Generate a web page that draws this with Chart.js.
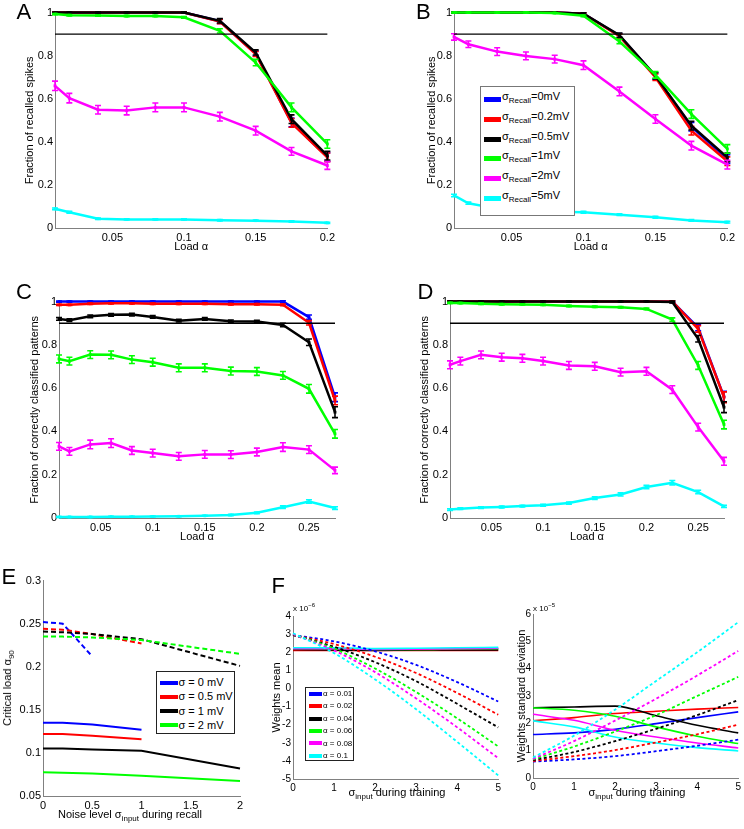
<!DOCTYPE html>
<html><head><meta charset="utf-8">
<script src="https://cdn.jsdelivr.net/npm/chart.js@4.4.1/dist/chart.umd.min.js"></script>
<style>
body{margin:0;background:#fff;}
#fig{position:relative;width:744px;height:829px;overflow:hidden;background:#fff;font-family:'Liberation Sans',Arial,sans-serif;color:#000;}
canvas{position:absolute;}
.lbl{position:absolute;font-size:22px;line-height:22px;}
.t{position:absolute;white-space:nowrap;font-size:11px;line-height:13px;}
.sub{font-size:8px;position:relative;top:3px;}
.sup{font-size:6px;position:relative;top:-4px;}
.leg{position:absolute;background:#fff;box-sizing:border-box;}
.row{position:absolute;white-space:nowrap;}
.sw{position:absolute;}
</style></head>
<body><div id="fig"></div>
<script>
// ---------------- DATA ----------------
const alphaAB = [0.01,0.02,0.04,0.06,0.08,0.1,0.125,0.15,0.175,0.2];
const alphaCD = [0.01,0.02,0.04,0.06,0.08,0.1,0.125,0.15,0.175,0.2,0.225,0.25,0.275];
const yTicksFrac = [0,0.2,0.4,0.6,0.8,1];
const yLabelsFrac = ['0','0.2','0.4','0.6','0.8','1'];
const xTicksAB = [0.05,0.1,0.15,0.2];
const xLabelsAB = ['0.05','0.1','0.15','0.2'];
const xTicksCD = [0.05,0.1,0.15,0.2,0.25];
const xLabelsCD = ['0.05','0.1','0.15','0.2','0.25'];
const threshold = 0.9;

// Panel A
const A_blue    = [1,1,1,1,1,1,0.960,0.810,0.490,0.330];
const A_red     = [1,1,1,1,1,1,0.958,0.808,0.488,0.328];
const A_black   = [1,1,1,1,1,1,0.962,0.815,0.505,0.336];
const A_green   = [0.993,0.988,0.986,0.984,0.984,0.978,0.915,0.768,0.560,0.390];
const A_magenta = [0.660,0.603,0.549,0.545,0.560,0.560,0.517,0.452,0.356,0.290];
const A_cyan    = [0.089,0.073,0.043,0.040,0.040,0.040,0.036,0.034,0.030,0.024];
const A_errHigh = [0.002,0.002,0.002,0.002,0.002,0.002,0.010,0.012,0.020,0.020];
const A_errGreen= [0.003,0.003,0.003,0.003,0.003,0.004,0.010,0.015,0.020,0.020];
const A_errMag  = [0.022,0.022,0.020,0.020,0.020,0.020,0.020,0.020,0.018,0.018];
const A_errCyan = [0.004,0.004,0.003,0.003,0.003,0.003,0.003,0.003,0.003,0.003];

// Panel B
const B_blue    = [1,1,1,1,1,0.995,0.893,0.705,0.470,0.320];
const B_red     = [1,1,1,1,1,0.995,0.890,0.700,0.452,0.310];
const B_black   = [1,1,1,1,1,0.995,0.895,0.707,0.475,0.328];
const B_green   = [1,1,1,1,0.998,0.985,0.866,0.711,0.529,0.367];
const B_magenta = [0.887,0.853,0.819,0.799,0.784,0.756,0.634,0.506,0.382,0.294];
const B_cyan    = [0.151,0.115,0.090,0.083,0.076,0.073,0.062,0.050,0.035,0.027];
const B_errHigh = [0.002,0.002,0.002,0.002,0.002,0.004,0.010,0.015,0.020,0.020];
const B_errMag  = [0.015,0.015,0.018,0.018,0.018,0.020,0.020,0.020,0.020,0.020];
const B_errCyan = [0.006,0.005,0.004,0.004,0.004,0.004,0.004,0.004,0.004,0.004];

// Panel C
const C_blue    = [1,1,1,1,1,1,1,1,1,1,1,0.928,0.558];
const C_red     = [0.985,0.985,0.990,0.992,0.992,0.990,0.990,0.990,0.988,0.988,0.985,0.902,0.543];
const C_black   = [0.920,0.914,0.932,0.939,0.940,0.929,0.912,0.920,0.909,0.908,0.892,0.812,0.489];
const C_green   = [0.735,0.725,0.755,0.754,0.732,0.720,0.694,0.694,0.679,0.677,0.659,0.597,0.389];
const C_magenta = [0.331,0.308,0.340,0.346,0.312,0.300,0.285,0.294,0.293,0.305,0.328,0.316,0.220];
const C_cyan    = [0.005,0.005,0.005,0.006,0.006,0.007,0.008,0.010,0.014,0.024,0.050,0.076,0.046];
const C_errHigh = [0.003,0.003,0.003,0.003,0.003,0.003,0.003,0.003,0.003,0.003,0.004,0.010,0.020];
const C_errBlack= [0.006,0.006,0.006,0.006,0.006,0.006,0.006,0.006,0.006,0.006,0.008,0.015,0.025];
const C_errGreen= [0.018,0.018,0.018,0.018,0.018,0.018,0.018,0.018,0.018,0.018,0.018,0.020,0.020];
const C_errMag  = [0.018,0.018,0.020,0.020,0.018,0.018,0.018,0.018,0.018,0.018,0.020,0.018,0.015];
const C_errCyan = [0.002,0.002,0.002,0.002,0.002,0.002,0.002,0.002,0.003,0.004,0.006,0.008,0.006];

// Panel D
const D_blue    = [1,1,1,1,1,1,1,1,1,1,1,0.880,0.560];
const D_red     = [1,1,1,1,1,1,1,1,1,1,1,0.874,0.558];
const D_black   = [1,1,1,1,1,1,1,1,1,1,0.998,0.828,0.512];
const D_green   = [0.994,0.993,0.990,0.988,0.987,0.985,0.980,0.976,0.974,0.966,0.917,0.705,0.432];
const D_magenta = [0.708,0.725,0.754,0.743,0.738,0.725,0.705,0.701,0.674,0.678,0.593,0.420,0.262];
const D_cyan    = [0.039,0.043,0.048,0.051,0.055,0.059,0.069,0.092,0.109,0.143,0.163,0.120,0.054];
const D_errHigh = [0.002,0.002,0.002,0.002,0.002,0.002,0.002,0.002,0.002,0.002,0.004,0.015,0.025];
const D_errGreen= [0.003,0.003,0.003,0.003,0.003,0.003,0.003,0.003,0.003,0.004,0.008,0.018,0.020];
const D_errMag  = [0.018,0.018,0.018,0.018,0.018,0.018,0.018,0.018,0.018,0.018,0.018,0.018,0.018];
const D_errCyan = [0.004,0.004,0.004,0.004,0.004,0.004,0.005,0.006,0.007,0.008,0.010,0.008,0.005];

// Panel E
const E_sigma = [0,0.2,0.5,1,2];
const E_xTicks = [0,0.5,1,1.5,2];
const E_xLabels = ['0','0.5','1','1.5','2'];
const E_yTicks = [0.05,0.1,0.15,0.2,0.25,0.3];
const E_yLabels = ['0.05','0.1','0.15','0.2','0.25','0.3'];
const E_solid_blue  = [0.135,0.135,0.133,0.127,null];
const E_solid_red   = [0.122,0.122,0.120,0.116,null];
const E_solid_black = [0.105,0.105,0.104,0.1025,0.082];
const E_solid_green = [0.0775,0.077,0.076,0.0735,0.0675];
const E_dash_blue   = [0.252,0.250,0.212,null,null];
const E_dash_red    = [0.244,0.243,0.238,0.227,null];
const E_dash_black  = [0.241,0.240,0.238,0.232,0.201];
const E_dash_green  = [0.235,0.235,0.234,0.231,0.215];
const E_legend = ['σ = 0 mV','σ = 0.5 mV','σ = 1 mV','σ = 2 mV'];

// Panel F
const F_sigma = [0,1,2,3,4,5];
const F_xTicks = [0,1,2,3,4,5];
const F_xLabels = ['0','1','2','3','4','5'];
const F_meanTicks = [-5,-4,-3,-2,-1,0,1,2,3,4];
const F_meanLabels = ['-5','-4','-3','-2','-1','0','1','2','3','4'];
const F_sdTicks = [0,1,2,3,4,5,6];
const F_sdLabels = ['0','1','2','3','4','5','6'];
const F_legend = ['α = 0.01','α = 0.02','α = 0.04','α = 0.06','α = 0.08','α = 0.1'];
// weights mean (x 1e-6): solid and dotted
const Fm_solid_blue    = [2.20,2.20,2.15,2.15,2.18,2.20];
const Fm_solid_red     = [2.10,2.10,2.10,2.10,2.10,2.10];
const Fm_solid_black   = [2.15,2.12,2.10,2.12,2.12,2.12];
const Fm_solid_green   = [2.20,2.20,2.15,2.15,2.18,2.20];
const Fm_solid_magenta = [2.20,2.20,2.15,2.17,2.20,2.22];
const Fm_solid_cyan    = [2.25,2.25,2.20,2.22,2.25,2.27];
const Fm_dot_blue      = [2.95,2.60,2.05,1.30,0.35,-0.72];
const Fm_dot_red       = [2.95,2.45,1.75,0.85,-0.25,-1.45];
const Fm_dot_black     = [2.95,2.30,1.45,0.40,-0.85,-2.15];
const Fm_dot_green     = [3.00,2.20,1.10,-0.20,-1.65,-3.20];
const Fm_dot_magenta   = [3.00,2.10,0.90,-0.55,-2.15,-3.85];
const Fm_dot_cyan      = [3.05,1.95,0.50,-1.15,-2.95,-4.80];
// weights standard deviation (x 1e-5)
const Fs_solid_blue    = [1.59,1.65,1.78,1.99,2.21,2.42];
const Fs_solid_red     = [2.09,2.21,2.36,2.44,2.52,2.58];
const Fs_solid_black   = [2.57,2.60,2.63,2.28,1.93,1.65];
const Fs_solid_green   = [2.57,2.48,2.26,1.87,1.53,1.26];
const Fs_solid_magenta = [2.33,2.11,1.75,1.50,1.28,1.10];
const Fs_solid_cyan    = [2.09,1.87,1.50,1.28,1.11,0.99];
const Fs_dot_blue      = [0.60,0.68,0.80,0.98,1.18,1.40];
const Fs_dot_red       = [0.62,0.80,1.02,1.30,1.60,1.95];
const Fs_dot_black     = [0.65,0.95,1.35,1.80,2.30,2.85];
const Fs_dot_green     = [0.68,1.15,1.70,2.30,3.00,3.70];
const Fs_dot_magenta   = [0.70,1.35,2.10,2.90,3.75,4.65];
const Fs_dot_cyan      = [0.75,1.55,2.50,3.55,4.60,5.70];

const B_legendNoise = ['0mV','0.2mV','0.5mV','1mV','2mV','5mV'];

// ---------------- STYLE ----------------
const COL = ['#0000ff','#ff0000','#000000','#00ff00','#ff00ff','#00ffff'];
Chart.defaults.font.family = "'Liberation Sans', Arial, sans-serif";
Chart.defaults.color = '#000';
const fig = document.getElementById('fig');

const errorBarPlugin = {
  id: 'errbars',
  afterDatasetDraw(chart, args) {
    const ds = chart.data.datasets[args.index];
    if (!ds.errors) return;
    const ys = chart.scales.y, ctx = chart.ctx;
    ctx.save();
    ctx.strokeStyle = ds.borderColor;
    ctx.lineWidth = 1.6;
    args.meta.data.forEach((pt, i) => {
      const e = ds.errors[i]; if (!e) return;
      const v = ds.data[i].y;
      const y1 = ys.getPixelForValue(v - e), y2 = ys.getPixelForValue(v + e), x = pt.x;
      ctx.beginPath();
      ctx.moveTo(x, y1); ctx.lineTo(x, y2);
      ctx.moveTo(x - 3, y1); ctx.lineTo(x + 3, y1);
      ctx.moveTo(x - 3, y2); ctx.lineTo(x + 3, y2);
      ctx.stroke();
    });
    ctx.restore();
  }
};

function pts(xs, ys) {
  const out = [];
  xs.forEach((x, i) => { if (ys[i] !== null && ys[i] !== undefined) out.push({x: x, y: ys[i]}); });
  return out;
}

function makeChart(box, datasets, sx, sy) {
  const {L, T, R, B, yw, xh, pt, pr} = box;
  const W = R - L + yw + pr, H = B - T + pt + xh;
  const cv = document.createElement('canvas');
  cv.width = W; cv.height = H;
  cv.style.left = (L - yw) + 'px'; cv.style.top = (T - pt) + 'px';
  cv.style.width = W + 'px'; cv.style.height = H + 'px';
  fig.appendChild(cv);
  const axis = (s, isX) => ({
    type: 'linear', position: isX ? 'bottom' : 'left', min: s.min, max: s.max,
    afterFit: sc => { if (isX) sc.height = xh; else sc.width = yw; },
    afterBuildTicks: sc => { sc.ticks = s.ticks.map(v => ({value: v})); },
    ticks: {callback: (v, i) => s.labels[i], font: {size: s.fs}, color: '#000', padding: isX ? 3 : 2, maxRotation: 0, autoSkip: false},
    grid: {display: false, drawTicks: false, tickLength: 0},
    border: {display: true, color: '#808080', width: 1},
    title: s.title ? {display: true, text: s.title, color: '#000', font: {size: 11},
      padding: isX ? {top: 0, bottom: s.tp} : {top: s.tp, bottom: 0}} : {display: false}
  });
  new Chart(cv, {
    type: 'line',
    data: {datasets: datasets},
    options: {
      responsive: false, animation: false, events: [],
      layout: {padding: {top: pt, right: pr, left: 0, bottom: 0}},
      plugins: {legend: {display: false}, tooltip: {enabled: false}},
      scales: {x: axis(sx, true), y: axis(sy, false)}
    },
    plugins: [errorBarPlugin]
  });
}

function errSeries(xs, ys, errs, ci, idx) {
  return {data: pts(xs, ys), errors: errs, borderColor: COL[ci], backgroundColor: COL[ci],
    borderWidth: 2.5, pointStyle: 'rect', pointRadius: 2, pointBorderWidth: 0,
    pointBackgroundColor: COL[ci], tension: 0, clip: false, order: 20 - idx};
}
function hline(xmin, xmax) {
  return {data: [{x: xmin, y: threshold}, {x: xmax, y: threshold}], borderColor: '#000', borderWidth: 1.3,
    pointRadius: 0, clip: false, order: 0};
}
function plain(xs, ys, ci, dashed, w, idx, mono) {
  return {data: pts(xs, ys), borderColor: COL[ci], borderWidth: w, borderDash: dashed || [],
    pointRadius: 0, tension: 0, cubicInterpolationMode: mono ? 'monotone' : 'default', clip: false, order: 40 - idx};
}

// ---- Panel A ----
makeChart({L: 55, T: 12, R: 330, B: 228, yw: 55, xh: 30, pt: 8, pr: 8}, [
  errSeries(alphaAB, A_blue, A_errHigh, 0, 0),
  errSeries(alphaAB, A_red, A_errHigh, 1, 1),
  errSeries(alphaAB, A_black, A_errHigh, 2, 2),
  errSeries(alphaAB, A_green, A_errGreen, 3, 3),
  errSeries(alphaAB, A_magenta, A_errMag, 4, 4),
  errSeries(alphaAB, A_cyan, A_errCyan, 5, 5),
  hline(0.01, 0.2)
], {min: 0.01, max: 0.2, ticks: xTicksAB, labels: xLabelsAB, fs: 11, title: 'Load α', tp: 4},
   {min: 0, max: 1, ticks: yTicksFrac, labels: yLabelsFrac, fs: 11, title: 'Fraction of recalled spikes', tp: 23});

// ---- Panel B ----
makeChart({L: 454, T: 12, R: 730, B: 228, yw: 60, xh: 30, pt: 8, pr: 8}, [
  errSeries(alphaAB, B_blue, B_errHigh, 0, 0),
  errSeries(alphaAB, B_red, B_errHigh, 1, 1),
  errSeries(alphaAB, B_black, B_errHigh, 2, 2),
  errSeries(alphaAB, B_green, B_errHigh, 3, 3),
  errSeries(alphaAB, B_magenta, B_errMag, 4, 4),
  errSeries(alphaAB, B_cyan, B_errCyan, 5, 5),
  hline(0.01, 0.2)
], {min: 0.01, max: 0.2, ticks: xTicksAB, labels: xLabelsAB, fs: 11, title: 'Load α', tp: 4},
   {min: 0, max: 1, ticks: yTicksFrac, labels: yLabelsFrac, fs: 11, title: 'Fraction of recalled spikes', tp: 31});

// ---- Panel C ----
makeChart({L: 59, T: 301, R: 335, B: 518, yw: 59, xh: 30, pt: 8, pr: 8}, [
  errSeries(alphaCD, C_blue, C_errHigh, 0, 0),
  errSeries(alphaCD, C_red, C_errHigh, 1, 1),
  errSeries(alphaCD, C_black, C_errBlack, 2, 2),
  errSeries(alphaCD, C_green, C_errGreen, 3, 3),
  errSeries(alphaCD, C_magenta, C_errMag, 4, 4),
  errSeries(alphaCD, C_cyan, C_errCyan, 5, 5),
  hline(0.01, 0.275)
], {min: 0.01, max: 0.275, ticks: xTicksCD, labels: xLabelsCD, fs: 11, title: 'Load α', tp: 4.5},
   {min: 0, max: 1, ticks: yTicksFrac, labels: yLabelsFrac, fs: 11, title: 'Fraction of correctly classified patterns', tp: 28});

// ---- Panel D ----
makeChart({L: 450, T: 301, R: 724, B: 518, yw: 60, xh: 30, pt: 8, pr: 8}, [
  errSeries(alphaCD, D_blue, D_errHigh, 0, 0),
  errSeries(alphaCD, D_red, D_errHigh, 1, 1),
  errSeries(alphaCD, D_black, D_errHigh, 2, 2),
  errSeries(alphaCD, D_green, D_errGreen, 3, 3),
  errSeries(alphaCD, D_magenta, D_errMag, 4, 4),
  errSeries(alphaCD, D_cyan, D_errCyan, 5, 5),
  hline(0.01, 0.275)
], {min: 0.01, max: 0.275, ticks: xTicksCD, labels: xLabelsCD, fs: 11, title: 'Load α', tp: 4.5},
   {min: 0, max: 1, ticks: yTicksFrac, labels: yLabelsFrac, fs: 11, title: 'Fraction of correctly classified patterns', tp: 28});

// ---- Panel E ----
const dashE = [5, 3];
makeChart({L: 43, T: 580, R: 240, B: 796, yw: 43, xh: 18, pt: 8, pr: 8}, [
  plain(E_sigma, E_solid_blue, 0, null, 2, 0),
  plain(E_sigma, E_solid_red, 1, null, 2, 1),
  plain(E_sigma, E_solid_black, 2, null, 2, 2),
  plain(E_sigma, E_solid_green, 3, null, 2, 3),
  plain(E_sigma, E_dash_blue, 0, dashE, 2, 4),
  plain(E_sigma, E_dash_red, 1, dashE, 2, 5),
  plain(E_sigma, E_dash_black, 2, dashE, 2, 6),
  plain(E_sigma, E_dash_green, 3, dashE, 2, 7)
], {min: 0, max: 2, ticks: E_xTicks, labels: E_xLabels, fs: 11},
   {min: 0.05, max: 0.3, ticks: E_yTicks, labels: E_yLabels, fs: 11});

// ---- Panel F (mean) ----
const dotF = [3, 2.5];
const FmSolid = [Fm_solid_blue, Fm_solid_red, Fm_solid_black, Fm_solid_green, Fm_solid_magenta, Fm_solid_cyan];
const FmDot = [Fm_dot_blue, Fm_dot_red, Fm_dot_black, Fm_dot_green, Fm_dot_magenta, Fm_dot_cyan];
const FsSolid = [Fs_solid_blue, Fs_solid_red, Fs_solid_black, Fs_solid_green, Fs_solid_magenta, Fs_solid_cyan];
const FsDot = [Fs_dot_blue, Fs_dot_red, Fs_dot_black, Fs_dot_green, Fs_dot_magenta, Fs_dot_cyan];
makeChart({L: 293, T: 616, R: 499, B: 779, yw: 30, xh: 16, pt: 8, pr: 5},
  FmSolid.map((s, i) => plain(F_sigma, s, i, null, 1.6, i, true)).concat(FmDot.map((s, i) => plain(F_sigma, s, i, dotF, 1.8, 6 + i, true))),
  {min: 0, max: 5, ticks: F_xTicks, labels: F_xLabels, fs: 10},
  {min: -5, max: 4, ticks: F_meanTicks, labels: F_meanLabels, fs: 10, title: 'Weights mean', tp: 7});

// ---- Panel F (sd) ----
makeChart({L: 533, T: 614, R: 739, B: 778, yw: 30, xh: 16, pt: 8, pr: 5},
  FsSolid.map((s, i) => plain(F_sigma, s, i, null, 1.6, i, true)).concat(FsDot.map((s, i) => plain(F_sigma, s, i, dotF, 1.8, 6 + i, true))),
  {min: 0, max: 5, ticks: F_xTicks, labels: F_xLabels, fs: 10},
  {min: 0, max: 6, ticks: F_sdTicks, labels: F_sdLabels, fs: 10, title: 'Weights standard deviation', tp: 12});

// ---------------- HTML TEXT ----------------
function addText(html, cls, style) {
  const d = document.createElement('div');
  d.className = cls; d.innerHTML = html;
  Object.assign(d.style, style);
  fig.appendChild(d);
  return d;
}
[['A', 16.5, 1.4], ['B', 416, 1.4], ['C', 16, 281.4], ['D', 417.5, 281.4], ['E', 1.5, 566.4], ['F', 271.5, 575]].forEach(p =>
  addText(p[0], 'lbl', {left: p[1] + 'px', top: p[2] + 'px'}));

addText('Critical load α<span class="sub">90</span>', 't',
  {left: '8px', top: '688px', transform: 'translate(-50%,-50%) rotate(-90deg)'});
addText('Noise level σ<span class="sub">input</span> during recall', 't',
  {left: '130px', top: '815px', transform: 'translate(-50%,-50%)'});
addText('σ<span class="sub">input</span> during training', 't',
  {left: '397px', top: '793px', transform: 'translate(-50%,-50%)'});
addText('σ<span class="sub">input</span> during training', 't',
  {left: '637px', top: '793px', transform: 'translate(-50%,-50%)'});
addText('x 10<span class="sup">−6</span>', 't', {left: '293px', top: '604px', fontSize: '8px', lineHeight: '10px'});
addText('x 10<span class="sup">−5</span>', 't', {left: '533px', top: '604px', fontSize: '8px', lineHeight: '10px'});

function legend(o) {
  const box = document.createElement('div');
  box.className = 'leg';
  Object.assign(box.style, {left: o.left + 'px', top: o.top + 'px', width: o.w + 'px', height: o.h + 'px', border: '1px solid ' + o.border});
  o.labels.forEach((html, i) => {
    const cy = o.y0 + i * o.dy;
    const sw = document.createElement('div');
    sw.className = 'sw';
    Object.assign(sw.style, {left: o.swX + 'px', top: (cy - o.swH / 2) + 'px', width: o.swW + 'px', height: o.swH + 'px', background: COL[i]});
    box.appendChild(sw);
    const r = document.createElement('div');
    r.className = 'row';
    r.innerHTML = html;
    Object.assign(r.style, {left: o.tx + 'px', top: (cy - o.fs * 0.6 - o.tOff) + 'px', fontSize: o.fs + 'px', lineHeight: (o.fs * 1.2) + 'px'});
    box.appendChild(r);
  });
  fig.appendChild(box);
}
legend({left: 480, top: 86, w: 95, h: 130, border: '#777', labels: B_legendNoise.map(s => 'σ<span class="sub">Recall</span>=' + s),
  y0: 12.5, dy: 19.8, swX: 3, swW: 17, swH: 5, tx: 21, fs: 11, tOff: 3});
legend({left: 156, top: 671, w: 79, h: 63, border: '#222', labels: E_legend,
  y0: 10.7, dy: 14.2, swX: 3, swW: 18, swH: 4, tx: 21.5, fs: 11, tOff: 0});
legend({left: 305, top: 687, w: 49, h: 74, border: '#222', labels: F_legend,
  y0: 5.8, dy: 12.4, swX: 3, swW: 13, swH: 4, tx: 17, fs: 8, tOff: 0});
</script>
</body></html>
